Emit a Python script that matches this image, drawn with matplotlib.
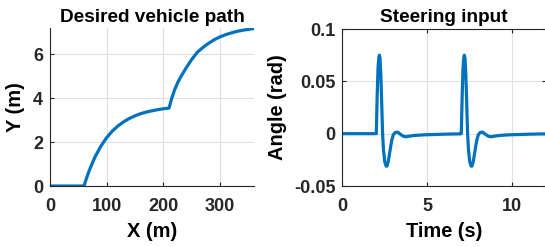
import matplotlib
matplotlib.use("Agg")
import matplotlib.pyplot as plt

# -----------------------------
# Datos
# -----------------------------
path_x = [0, 60, 65, 70, 75, 80, 90, 100, 110, 120, 130, 140, 150, 160, 170,
          180, 190, 200, 210, 215, 220, 225, 230, 240, 250, 260, 270, 280,
          290, 300, 310, 320, 330, 340, 350, 360]
path_y = [0, 0, 0.40, 0.75, 1.06, 1.35, 1.82, 2.20, 2.50, 2.73, 2.92, 3.07,
          3.19, 3.29, 3.36, 3.42, 3.47, 3.51, 3.54, 4.00, 4.38, 4.68, 4.93,
          5.36, 5.75, 6.08, 6.30, 6.49, 6.65, 6.78, 6.88, 6.96, 7.03, 7.08,
          7.12, 7.16]

steer_t = [0, 2.00, 2.05, 2.10, 2.15, 2.18, 2.22, 2.27, 2.32, 2.37, 2.42,
           2.50, 2.58, 2.63, 2.70, 2.80, 2.90, 3.00, 3.10, 3.20, 3.30, 3.45,
           3.60, 3.75, 3.90, 4.20, 4.60, 5.00, 5.50, 6.00, 6.50, 6.95,
           7.00, 7.05, 7.10, 7.15, 7.18, 7.22, 7.27, 7.32, 7.37, 7.42, 7.50,
           7.58, 7.63, 7.70, 7.80, 7.90, 8.00, 8.10, 8.20, 8.30, 8.45, 8.60,
           8.75, 8.90, 9.20, 9.60, 10.0, 10.5, 11.0, 11.5, 12.0]
steer_a = [0, 0, 0.035, 0.062, 0.073, 0.075, 0.072, 0.055, 0.028, 0.0,
           -0.015, -0.027, -0.031, -0.031, -0.027, -0.017, -0.007, -0.001,
           0.001, 0.0015, 0.001, -0.001, -0.0025, -0.003, -0.0025, -0.0018,
           -0.0013, -0.001, -0.0008, -0.0005, -0.0003, -0.0002,
           0.0, 0.035, 0.062, 0.073, 0.075, 0.072, 0.055, 0.028, 0.0,
           -0.015, -0.027, -0.031, -0.031, -0.027, -0.017, -0.007, -0.001,
           0.001, 0.0015, 0.001, -0.001, -0.0025, -0.003, -0.0025, -0.0018,
           -0.0013, -0.001, -0.0008, -0.0005, -0.0003, -0.0002]

path_xticks = [0, 100, 200, 300]
path_yticks = [0, 2, 4, 6]
steer_xticks = [0, 5, 10]
steer_yticks = [-0.05, 0, 0.05, 0.1]
steer_yticklabels = ["-0.05", "0", "0.05", "0.1"]

LINE_COLOR = "#0072BD"
GRID_COLOR = "#e0e0e0"
TEXT_COLOR = "#262626"

plt.rcParams["font.family"] = ["Liberation Sans", "DejaVu Sans"]
plt.rcParams["font.weight"] = "bold"
plt.rcParams["axes.unicode_minus"] = False


def estilo_ejes(ax, box):
    ax.grid(True, color=GRID_COLOR, linewidth=0.8)
    ax.set_axisbelow(True)
    ax.tick_params(direction="in", length=3, width=0.8, labelsize=13,
                   colors=TEXT_COLOR, top=box, right=box)
    ax.tick_params(axis="x", pad=8.5)
    ax.tick_params(axis="y", pad=5)
    for lbl in ax.get_xticklabels() + ax.get_yticklabels():
        lbl.set_fontweight("bold")
    for side in ["left", "bottom", "top", "right"]:
        ax.spines[side].set_color(TEXT_COLOR)
        ax.spines[side].set_linewidth(0.8)
    if not box:
        ax.spines["top"].set_visible(False)
        ax.spines["right"].set_visible(False)


fig = plt.figure(figsize=(5.45, 2.47), dpi=100)
W, H = 545, 247

ax1 = fig.add_axes([50 / W, (H - 186) / H, 204 / W, 157.5 / H])
ax1.plot(path_x, path_y, color=LINE_COLOR, linewidth=2.3)
ax1.set_xlim(0, 360)
ax1.set_ylim(0, max(path_y))
ax1.set_xticks(path_xticks)
ax1.set_yticks(path_yticks)
estilo_ejes(ax1, box=False)
ax1.set_title("Desired vehicle path", fontsize=13.7, fontweight="bold", pad=5)
ax1.set_xlabel("X (m)", fontsize=14.4, fontweight="bold", labelpad=5)
ax1.set_ylabel("Y (m)", fontsize=14.4, fontweight="bold", labelpad=6)

ax2 = fig.add_axes([342.3 / W, (H - 186) / H, 204 / W, 157 / H])
ax2.plot(steer_t, steer_a, color=LINE_COLOR, linewidth=2.3)
ax2.set_xlim(0, 12)
ax2.set_ylim(-0.05, 0.1)
ax2.set_xticks(steer_xticks)
ax2.set_yticks(steer_yticks)
ax2.set_yticklabels(steer_yticklabels)
estilo_ejes(ax2, box=True)
ax2.set_title("Steering input", fontsize=13.7, fontweight="bold", pad=5)
ax2.set_xlabel("Time (s)", fontsize=14.4, fontweight="bold", labelpad=5)
ax2.set_ylabel("Angle (rad)", fontsize=14.4, fontweight="bold", labelpad=5)

fig.savefig("out.png", dpi=100)
